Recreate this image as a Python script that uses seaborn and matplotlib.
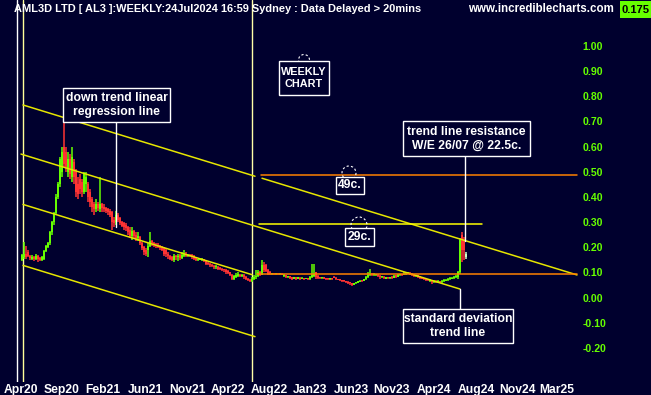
import numpy as np
import pandas as pd
import matplotlib
matplotlib.use("Agg")
import matplotlib.pyplot as plt
from matplotlib.patches import Rectangle, Ellipse
import seaborn as sns

# ---------------- data ----------------
week_open = [
    .150, .160, .175, .180, .165, .155, .162, .155, .165, .158,
    .150, .155, .185, .200, .215, .260, .300, .335, .400, .450,
    .500, .600, .580, .500, .550, .480, .540, .500, .450, .470,
    .460, .420, .450, .450, .420, .390, .370, .350, .370, .350,
    .370, .360, .355, .350, .345, .340, .310, .300, .330, .315,
    .300, .295, .290, .280, .270, .245, .265, .250, .235, .240,
    .215, .200, .190, .190, .205, .225, .215, .210, .210, .205,
    .200, .195, .190, .175, .165, .160, .150, .165, .160, .168,
    .158, .165, .175, .165, .170, .168, .165, .158, .148, .150,
    .150, .152, .145, .138, .135, .130, .127, .120, .123, .118,
    .115, .112, .110, .105, .100, .090, .075, .082, .085, .090,
    .085, .090, .080, .075, .070, .065, .072, .080, .085, .100,
    .090, .130, .130, .110, .100, .092, .095, .093, .095, .092,
    .094, .085, .088, .080, .084, .080, .075, .078, .075, .078,
    .074, .077, .074, .076, .073, .080, .085, .100, .085, .080,
    .076, .078, .076, .075, .073, .076, .080, .078, .073, .072,
    .068, .067, .064, .063, .060, .057, .052, .056, .058, .062,
    .068, .066, .072, .080, .090, .095, .088, .090, .090, .085,
    .080, .083, .075, .080, .076, .080, .078, .088, .082, .088,
    .092, .090, .093, .095, .098, .095, .090, .086, .088, .084,
    .080, .076, .073, .072, .066, .068, .062, .066, .060, .064,
    .060, .064, .066, .070, .072, .074, .078, .080, .080, .100,
    .250, .230, .160]
week_close = [
    .170, .175, .160, .165, .158, .162, .155, .165, .155, .150,
    .160, .185, .205, .215, .260, .300, .335, .400, .450, .550,
    .580, .530, .520, .550, .490, .560, .480, .420, .410, .430,
    .420, .490, .480, .400, .380, .360, .350, .370, .355, .370,
    .355, .350, .345, .340, .330, .300, .295, .330, .310, .295,
    .285, .280, .275, .260, .245, .265, .245, .235, .245, .215,
    .195, .180, .175, .205, .225, .215, .210, .205, .200, .195,
    .190, .175, .175, .165, .155, .150, .165, .160, .165, .158,
    .170, .175, .165, .170, .165, .160, .155, .148, .152, .152,
    .153, .145, .135, .132, .128, .125, .120, .125, .115, .113,
    .110, .108, .100, .098, .090, .075, .085, .090, .092, .085,
    .090, .080, .072, .068, .065, .075, .080, .085, .100, .090,
    .130, .110, .105, .095, .092, .095, .093, .095, .092, .094,
    .090, .090, .082, .084, .078, .075, .078, .075, .078, .074,
    .077, .074, .076, .073, .080, .090, .092, .080, .078, .076,
    .078, .075, .074, .073, .075, .074, .078, .072, .070, .068,
    .066, .064, .062, .058, .056, .052, .056, .060, .064, .066,
    .065, .072, .080, .090, .095, .090, .093, .092, .085, .080,
    .083, .078, .080, .076, .080, .078, .085, .082, .088, .092,
    .090, .095, .098, .098, .090, .088, .086, .088, .082, .078,
    .075, .072, .070, .068, .070, .062, .066, .062, .064, .060,
    .066, .068, .070, .073, .075, .078, .080, .085, .100, .230,
    .190, .190, .175]
week_high = [
    .175, .220, .205, .190, .170, .170, .165, .175, .170, .160,
    .165, .190, .210, .220, .265, .305, .340, .410, .460, .560,
    .600, .720, .600, .580, .570, .600, .550, .510, .480, .490,
    .470, .500, .500, .460, .430, .400, .380, .390, .380, .480,
    .375, .370, .360, .355, .350, .345, .320, .345, .335, .320,
    .305, .300, .295, .285, .280, .280, .270, .260, .260, .245,
    .220, .205, .195, .215, .260, .230, .220, .215, .215, .210,
    .205, .200, .195, .180, .170, .165, .175, .170, .175, .175,
    .180, .190, .180, .175, .175, .172, .170, .160, .155, .155,
    .158, .155, .148, .140, .138, .135, .130, .130, .125, .120,
    .118, .115, .112, .108, .102, .092, .090, .098, .100, .095,
    .095, .092, .085, .078, .075, .080, .090, .110, .110, .105,
    .150, .140, .135, .115, .105, .098, .097, .098, .097, .096,
    .096, .092, .090, .087, .086, .082, .080, .080, .080, .080,
    .080, .079, .078, .078, .085, .135, .135, .102, .090, .082,
    .080, .080, .078, .077, .078, .078, .085, .080, .075, .074,
    .070, .069, .066, .065, .062, .059, .058, .062, .066, .070,
    .070, .075, .085, .100, .112, .098, .096, .095, .092, .088,
    .086, .085, .083, .082, .083, .085, .090, .090, .095, .095,
    .095, .100, .102, .100, .100, .097, .092, .090, .090, .086,
    .082, .078, .075, .074, .072, .070, .070, .068, .070, .066,
    .070, .072, .074, .078, .080, .080, .085, .090, .105, .235,
    .262, .240, .180]
week_low = [
    .145, .155, .155, .160, .150, .150, .145, .150, .140, .145,
    .145, .150, .180, .195, .210, .250, .290, .330, .390, .440,
    .480, .520, .500, .480, .470, .460, .450, .400, .390, .410,
    .400, .410, .420, .380, .360, .340, .330, .340, .345, .340,
    .340, .340, .335, .330, .320, .270, .280, .290, .300, .290,
    .280, .270, .265, .250, .235, .230, .235, .225, .225, .210,
    .190, .170, .165, .160, .200, .205, .200, .195, .195, .190,
    .185, .165, .160, .155, .150, .145, .140, .150, .145, .150,
    .155, .160, .160, .160, .160, .155, .150, .145, .145, .148,
    .147, .140, .130, .128, .122, .120, .113, .115, .110, .108,
    .105, .100, .095, .093, .085, .070, .070, .078, .080, .080,
    .080, .075, .068, .065, .060, .060, .068, .075, .080, .085,
    .088, .100, .100, .090, .088, .090, .090, .090, .090, .090,
    .088, .082, .078, .078, .075, .070, .072, .070, .072, .070,
    .072, .071, .072, .070, .070, .078, .080, .075, .075, .072,
    .074, .072, .071, .070, .071, .071, .076, .070, .068, .065,
    .063, .060, .058, .055, .052, .048, .050, .054, .056, .060,
    .062, .064, .070, .078, .085, .085, .085, .087, .080, .072,
    .077, .072, .072, .072, .073, .074, .076, .078, .080, .085,
    .087, .088, .090, .092, .088, .084, .082, .083, .078, .075,
    .072, .068, .066, .064, .063, .055, .058, .058, .057, .056,
    .058, .062, .064, .066, .070, .072, .075, .078, .075, .095,
    .140, .150, .155]

# trend channel lines: week0, price0, week1, price1
line_names = ["top_a", "top_b", "mid", "low", "bottom"]
line_w0 = [0.5, 120.0, -0.5, 0.5, 0.5]
line_p0 = [0.765, 0.474, 0.570, 0.370, 0.128]
line_w1 = [116.5, 277.5, 219.0, 115.0, 116.5]
line_p1 = [0.482, 0.090, 0.034, 0.091, -0.155]

# horizontal resistance / support lines
hline_names = ["49c", "29c", "9c"]
hline_price = [0.487, 0.292, 0.093]
hline_w0 = [119.5, 118.5, 117.5]
hline_w1 = [277.5, 230.0, 277.5]

y_ticks = [1.0, 0.9, 0.8, 0.7, 0.6, 0.5, 0.4, 0.3, 0.2, 0.1, 0.0, -0.1, -0.2]
x_tick_weeks = [-0.5, 20, 40.5, 61.5, 82.5, 103, 123.5, 144, 164.5, 185,
                206, 227, 247.5, 267.5]
x_tick_labels = ["Apr20", "Sep20", "Feb21", "Jun21", "Nov21", "Apr22", "Aug22",
                 "Jan23", "Jun23", "Nov23", "Apr24", "Aug24", "Nov24", "Mar25"]

# ---------------- style ----------------
BG = "#00002e"
GREEN = "#66ff00"
RED = "#ff3333"
YELLOW = "#e6e600"
ORANGE = "#ff8000"

sns.set_theme(style="dark", rc={"axes.facecolor": BG, "figure.facecolor": BG})
plt.rcParams["font.family"] = ["Liberation Sans", "DejaVu Sans"]

W, H = 651, 395
fig = plt.figure(figsize=(W / 100, H / 100), dpi=100)
AX_R, AX_B = 578, 382
ax = fig.add_axes([0, (H - AX_B) / H, AX_R / W, AX_B / H])
ax.set_facecolor(BG)

# pixel -> data helpers (for annotation placement)
def px(x):
    return (x - 22) / 2.0

def py(y):
    return (297.6 - y) / 251.8

ax.set_xlim(px(0), px(AX_R))
ax.set_ylim(py(AX_B), py(0))

# ---------------- candles ----------------
weeks = np.arange(len(week_close))
o = np.array(week_open); c = np.array(week_close)
hi = np.array(week_high); lo = np.array(week_low)
cols = np.where(c >= o, GREEN, RED).astype(object)
cols[-1] = "#ccffcc"
ax.vlines(weeks, lo, hi, colors=list(cols), lw=1.1, zorder=3)
bottoms = np.minimum(o, c)
heights = np.maximum(np.abs(c - o), 0.005)
ax.bar(weeks, heights, bottom=bottoms, width=1.35, color=list(cols),
       linewidth=0, zorder=3)

# ---------------- vertical markers ----------------
ax.plot([px(17), px(17)], [py(0), py(AX_B)], color="white", lw=1, zorder=2)
ax.plot([px(23), px(23)], [py(0), py(AX_B)], color="#ffff99", lw=1, zorder=2)
ax.plot([px(252), px(252)], [py(0), py(AX_B)], color="#ffffa8", lw=1, zorder=2)

# ---------------- trend lines via seaborn ----------------
rows = []
for n, w0, p0, w1, p1 in zip(line_names, line_w0, line_p0, line_w1, line_p1):
    rows += [(n, w0, p0), (n, w1, p1)]
df_lines = pd.DataFrame(rows, columns=["line", "week", "price"])
sns.lineplot(data=df_lines, x="week", y="price", units="line", estimator=None,
             color=YELLOW, lw=1.1, ax=ax, zorder=4)

hrows = []
for n, p, w0, w1 in zip(hline_names, hline_price, hline_w0, hline_w1):
    hrows += [(n, w0, p), (n, w1, p)]
df_h = pd.DataFrame(hrows, columns=["line", "week", "price"])
sns.lineplot(data=df_h[df_h.line != "29c"], x="week", y="price", units="line",
             estimator=None, color=ORANGE, lw=1.1, ax=ax, zorder=4)
sns.lineplot(data=df_h[df_h.line == "29c"], x="week", y="price", units="line",
             estimator=None, color="#ffff00", lw=1.1, ax=ax, zorder=4)

# pointer lines
for xx, y0, y1 in [(116, 122, 227), (465, 156, 241), (460, 289, 310)]:
    ax.plot([px(xx), px(xx)], [py(y0), py(y1)], color="white", lw=1, zorder=5)

# ---------------- annotation boxes ----------------
def box(x0, y0, x1, y1, text, fs=8.7):
    r = Rectangle((px(x0), py(y1)), (x1 - x0) / 2.0, (y1 - y0) / 251.8,
                  facecolor=BG, edgecolor="white", lw=1, zorder=7)
    ax.add_patch(r)
    ax.text(px((x0 + x1) / 2), py((y0 + y1) / 2), text, ha="center", va="center",
            color="white", fontsize=fs, fontweight="bold", linespacing=1.2,
            zorder=8)

def ring(x, y, r):
    e = Ellipse((px(x), py(y)), width=r, height=2 * r / 251.8, fill=False,
                edgecolor="white", lw=0.8, ls=(0, (2, 2)), zorder=6)
    ax.add_patch(e)

ring(304, 60, 5.5)
ring(349, 173, 7)
ring(359, 225, 8)

box(63, 88, 170, 122, "down trend linear\nregression line")
box(279, 61, 329, 95, "WEEKLY\nCHART", fs=7.8)
box(403, 121, 530, 156, "trend line resistance\nW/E 26/07 @ 22.5c.")
box(336, 177, 364, 194, "49c.")
box(345, 228, 374, 246, "29c.")
box(403, 309, 513, 343, "standard deviation\ntrend line")

# ---------------- header ----------------
ax.text(px(14), py(9), "AML3D LTD [ AL3 ]:WEEKLY:24Jul2024 16:59 Sydney : Data Delayed > 20mins",
        ha="left", va="center", color="white", fontsize=7.9, fontweight="bold",
        zorder=9)
ax.text(px(468), py(9), "www.incrediblecharts.com", ha="left", va="center",
        color="white", fontsize=8.3, fontweight="bold", zorder=9)
fig.patches.append(Rectangle((620 / W, 1 - 18 / H), 31 / W, 17 / H,
                             transform=fig.transFigure, facecolor=GREEN,
                             edgecolor="none", zorder=1))
fig.text(635 / W, 1 - 10 / H, "0.175", ha="center", va="center", color="black",
         fontsize=8, fontweight="bold", zorder=2)

# ---------------- axes ----------------
ax.yaxis.tick_right()
ax.set_yticks(y_ticks)
ax.set_yticklabels([f"{v:.2f}" for v in y_ticks])
ax.tick_params(axis="y", colors=GREEN, length=0, pad=3.5, labelsize=7.6)
ax.set_xticks(x_tick_weeks)
ax.set_xticklabels(x_tick_labels)
ax.tick_params(axis="x", colors="white", length=0, pad=1.5, labelsize=8.7)
for lab in ax.get_yticklabels() + ax.get_xticklabels():
    lab.set_fontweight("bold")
ax.set_xlabel("")
ax.set_ylabel("")
ax.grid(False)
for s in ax.spines.values():
    s.set_visible(False)

fig.savefig("out.png", dpi=100, facecolor=BG)
